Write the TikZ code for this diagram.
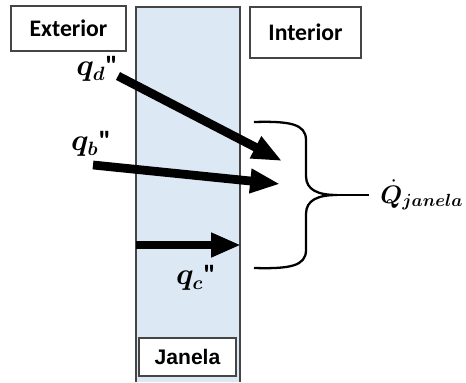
\documentclass[tikz,border=0pt]{standalone}
\usepackage{amsmath,amssymb,bm}
\usepackage{fontspec}
\newfontfamily\boxfont{Carlito}
\newfontfamily\janfont{Liberation Sans}
\usepackage{xcolor}
\usepackage{tikz}
\usetikzlibrary{arrows.meta,positioning,calc}
\definecolor{glass}{HTML}{DDE8F5}
\definecolor{frame}{HTML}{454545}
\newcommand{\tick}{{\boxfont\bfseries\symbol{34}}}

\begin{document}
\begin{tikzpicture}[x=0.02cm,y=-0.02cm,
  lbl/.style={draw=frame,fill=white,line width=0.8pt,inner sep=0pt,
              font=\boxfont\bfseries\fontsize{13.5}{15}\selectfont},
  flux/.style={-{Triangle[length=17pt,width=13pt]},line width=5pt},
  sym/.style={inner sep=0pt,font=\fontsize{16}{18}\selectfont}
]
\useasboundingbox (0,0) rectangle (466,382);
% janela
\fill[glass] (136,7) rectangle (240,382);
\draw[frame,line width=0.8pt] (136,382) -- (136,7) -- (240,7) -- (240,382);
\node[lbl,minimum width=2.3cm,minimum height=0.9cm] (ext) at (68.5,28.5) {Exterior};
\node[lbl,minimum width=2.22cm,minimum height=1.02cm] (int) at (305.5,32.5) {Interior};
\node[lbl,font=\janfont\bfseries\fontsize{12}{14}\selectfont,
      minimum width=1.94cm,minimum height=0.76cm] (jan) at (187.5,357) {Janela};
% fluxos
\coordinate (d0) at (118,76);  \coordinate (d1) at (282,161);
\coordinate (b0) at (93,165);  \coordinate (b1) at (280,184);
\coordinate (c0) at (136,245); \coordinate (c1) at (241,245);
\draw[flux] (d0) -- (d1);
\draw[flux] (b0) -- (b1);
\draw[flux] (c0) -- (c1);
\node[sym] (qd) at (97,69) {$\bm{q_d}$\tick};
\node[sym] (qb) at (91,144) {$\bm{q_b}$\tick};
\node[sym] (qc) at (196,278) {$\bm{q_c}$\tick};
% chave
\coordinate (top) at (254,122);
\coordinate (bot) at (254,268);
\coordinate (tip) at (337,195);
\node[sym,font=\fontsize{14}{16}\selectfont,anchor=west] (qj) at (380,195)
  {$\bm{\dot{Q}_{janela}}$};
\draw[line width=1.3pt]
  (top) .. controls (290,121) and (306,124) .. (306,140)
  -- (306,176) .. controls (306,190) and (318,195) .. (tip)
  .. controls (318,195) and (306,200) .. (306,214)
  -- (306,250) .. controls (306,266) and (290,269) .. (bot);
\draw[line width=1.3pt,shorten >=6pt] (tip) -- (qj.west);
\end{tikzpicture}
\end{document}
